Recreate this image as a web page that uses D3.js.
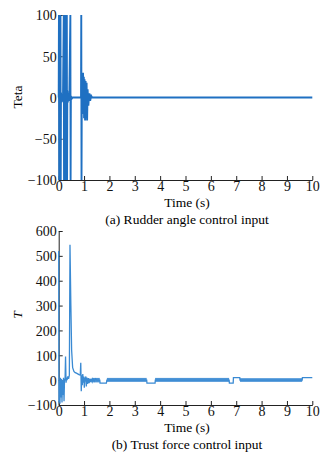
<!DOCTYPE html>
<html>
<head>
<meta charset="utf-8">
<script src="https://cdn.jsdelivr.net/npm/d3@7"></script>
<style>
  body { margin: 0; background: #fff; }
  svg { display: block; font-family: "Liberation Serif", "Times New Roman", serif; }
  .axis path, .axis line { stroke: #222; }
  .axis text { fill: #111; font-size: 14px; font-family: "Liberation Serif", serif; }
</style>
</head>
<body>
<svg id="chart" width="331" height="461"></svg>
<script>
// x ticks shared by both panels
const timeTicks = [0, 1, 2, 3, 4, 5, 6, 7, 8, 9, 10];
const tetaTicks = [-100, -50, 0, 50, 100];
const thrustTicks = [-100, 0, 100, 200, 300, 400, 500, 600];

// (a) rudder angle
const tetaTime = [0, 0.01, 0.02, 0.03, 0.05, 0.07, 0.08, 0.09, 0.11, 0.13, 0.15, 0.17,
  0.2, 0.21, 0.22, 0.24, 0.26, 0.27, 0.28, 0.3, 0.32, 0.33, 0.34, 0.36, 0.38, 0.4, 0.42,
  0.46, 0.47, 0.48, 0.5, 0.55, 0.88, 0.89, 0.9, 0.91, 0.93, 0.96, 0.97, 0.99, 1.0, 1.02,
  1.04, 1.06, 1.08, 1.1, 1.12, 1.14, 1.17, 1.2, 1.24, 1.28, 1.32, 10];
const tetaValue = [0, 100, -100, 5, -8, 100, -100, 6, -6, 4, -5, 3,
  100, -100, 7, -8, 100, -100, 6, -7, 100, -100, 8, -6, 5, -4, 3,
  100, -100, 2, -2, 0, 0, 100, -100, 0, 0, 30, -20, 25, -25, 22,
  -28, 20, -25, 18, -28, 10, -10, 5, -4, 2, 0, 0];

// (b) thrust force, main trace
const thrustTime = [0, 0.01, 0.03, 0.05, 0.07, 0.09, 0.11, 0.13, 0.15, 0.17, 0.19, 0.21,
  0.23, 0.25, 0.27, 0.29, 0.31, 0.33, 0.36, 0.39, 0.42, 0.445, 0.48, 0.51, 0.55, 0.6, 0.65,
  0.7, 0.75, 0.8, 0.85, 0.87, 0.89, 0.91, 0.93, 0.95, 0.97, 0.99, 1.01, 1.03, 1.05, 1.07,
  1.09, 1.11, 1.14, 1.17, 1.2, 1.23, 1.26, 1.29, 1.32, 1.35, 1.4, 1.45, 1.5, 1.62, 1.63,
  1.88, 1.9, 3.47, 3.48, 3.8, 3.81, 6.72, 6.73, 6.88, 6.89, 7.14, 7.15, 9.6, 9.61, 10];
const thrustValue = [520, -90, 0, -95, 10, -70, 5, -90, 0, -60, 10, -85,
  5, 0, 95, -10, 10, 0, 15, 5, 20, 545, 300, 120, 50, 35, 30,
  28, 25, 22, 20, 70, -45, 20, -20, 25, -10, 15, -30, 10, -5, 15,
  -25, 10, -15, 8, -12, 6, -8, 5, -6, 5, -4, 5, 0, 0, -12,
  -12, 0, 0, -12, -12, 0, 0, -12, -12, 10, 10, 0, 0, 10, 10];

// chattering stretches drawn as a band: start, end, low, high
const chatterStart = [1.3, 1.9, 3.8, 7.15];
const chatterEnd = [1.62, 3.47, 6.72, 9.6];
const chatterLow = [-9, -7, -7, -7];
const chatterHigh = [9, 9, 9, 8];

const svg = d3.select("#chart");
const left = 58.7, right = 312.3;

const x = d3.scaleLinear().domain([0, 10]).range([left, right]);

function drawAxes(y, yTicks, bottom) {
  svg.append("g")
    .attr("class", "axis")
    .attr("transform", `translate(${left},0)`)
    .call(d3.axisLeft(y).tickValues(yTicks).tickSizeInner(-4).tickSizeOuter(0).tickPadding(2))
    .selectAll("text").attr("dy", "0.35em");
  svg.append("g")
    .attr("class", "axis")
    .attr("transform", `translate(0,${bottom})`)
    .call(d3.axisBottom(x).tickValues(timeTicks).tickSizeInner(-4).tickSizeOuter(0).tickPadding(1)
      .tickFormat(d3.format("d")))
    .selectAll("text").attr("dy", "0.71em");
}

function labels(cx, yTop, caption, yLabel, yLabelY, italic) {
  svg.append("text")
    .attr("x", cx).attr("y", yTop)
    .attr("text-anchor", "middle")
    .style("font-size", "13.5px")
    .text("Time (s)");
  svg.append("text")
    .attr("x", cx).attr("y", yTop + 17)
    .attr("text-anchor", "middle")
    .style("font-size", "13.5px")
    .text(caption);
  svg.append("text")
    .attr("transform", `translate(22,${yLabelY}) rotate(-90)`)
    .attr("text-anchor", "middle")
    .style("font-size", "13.5px")
    .style("font-style", italic ? "italic" : "normal")
    .text(yLabel);
}

// ---- panel (a)
const y1 = d3.scaleLinear().domain([-100, 100]).range([180, 15]);
drawAxes(y1, tetaTicks, 180);

const teta = tetaTime.map((t, i) => ({ t: t, v: tetaValue[i] }));
svg.append("path")
  .datum(teta)
  .attr("fill", "none")
  .attr("stroke", "#1f70c2")
  .attr("stroke-width", 1.9)
  .attr("d", d3.line().x(d => x(d.t)).y(d => y1(d.v)));

labels(187, 207, "(a) Rudder angle control input", "Teta", 97, false);

// ---- panel (b)
const y2 = d3.scaleLinear().domain([-100, 600]).range([405, 231]);
drawAxes(y2, thrustTicks, 405);

const bands = chatterStart.map((s, i) => ({ s: s, e: chatterEnd[i], lo: chatterLow[i], hi: chatterHigh[i] }));
svg.selectAll("rect.chatter")
  .data(bands)
  .enter()
  .append("rect")
    .classed("chatter", true)
    .attr("x", d => x(d.s))
    .attr("width", d => x(d.e) - x(d.s))
    .attr("y", d => y2(d.hi))
    .attr("height", d => y2(d.lo) - y2(d.hi))
    .attr("fill", "#3a8ad3")
    .attr("opacity", 0.9);

const thrust = thrustTime.map((t, i) => ({ t: t, v: thrustValue[i] }));
svg.append("path")
  .datum(thrust)
  .attr("fill", "none")
  .attr("stroke", "#3a8ad3")
  .attr("stroke-width", 1.3)
  .attr("d", d3.line().x(d => x(d.t)).y(d => y2(d.v)));

labels(187, 432, "(b) Trust force control input", "T", 315, true);
</script>
</body>
</html>
